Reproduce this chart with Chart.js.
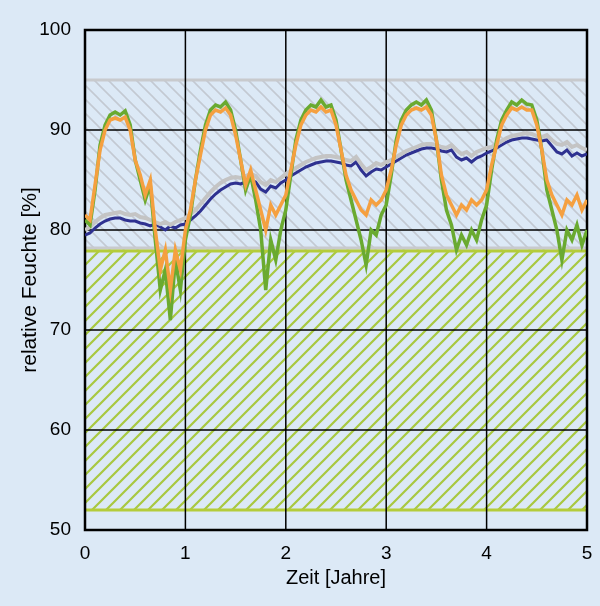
<!DOCTYPE html><html><head><meta charset="utf-8">
<script src="https://cdn.jsdelivr.net/npm/chart.js@4"></script>
<style>html,body{margin:0;padding:0;background:#dce9f6}canvas{display:block}</style></head><body>
<div style="width:600px;height:606px"><canvas id="c"></canvas></div>
<script>
const years=[];for(let i=0;i<=100;i++)years.push(i*0.05);
const green=[81,80.5,84,88.5,90.5,91.5,91.8,91.5,91.9,90.5,87,85,83,84.5,79,74,76,71,77,74,79,
81.5,85,88,90.5,92,92.5,92.3,92.8,92,90,87,84,85.5,83,80,74,79,77,80,82,
85.5,89,91,92,92.5,92.3,93,92.3,92.5,91,88,85,83,81,79,76.5,80,79.5,81.5,82.5,
85.5,89,91,92,92.5,92.8,92.5,93,92,89,85,82,80.5,78,79.5,78.5,80,79,81,82.5,
86,89,91,92,92.8,92.5,93,92.6,92.5,91,88,84,82,80,77,80,79,80.5,78.5,80];
const orange=[81.5,81,84.5,88,90,91,91.2,91,91.3,90,87,85.5,83.5,85,80,76,78,74,78,76,80,
82,85,87.5,90,91.5,92,91.8,92.2,91.5,89.5,87,84.5,86,84,82,80,82.5,81.5,82.5,83.5,
86,88.5,90.5,91.5,92,91.8,92.3,91.8,92,90.5,88,85.5,84,83,82,81.5,83,82.5,83,84,
86,88.5,90.5,91.5,92,92.2,92,92.3,91.5,89,85.5,83.5,82.5,81.5,82.5,82,83,82.5,83,84,
86.5,88.5,90.5,91.5,92.2,92,92.3,92,92,90.5,88,85,83.5,82.5,81.5,83,82.5,83.5,82,83];
const gray=[80,80.3,80.8,81.2,81.5,81.6,81.7,81.8,81.6,81.5,81.6,81.3,81.2,81,80.8,80.6,80.8,80.5,80.8,81,81.2,
81.6,82,82.6,83.2,83.8,84.3,84.7,85,85.2,85.3,85.2,85.4,85.6,85.4,84.8,84.5,85,84.8,85.2,85.6,
85.9,86.2,86.5,86.8,87,87.2,87.3,87.4,87.4,87.3,87.2,87,86.9,87.3,86.6,86,86.3,86.7,86.5,86.8,
87,87.3,87.6,87.9,88.1,88.3,88.5,88.6,88.6,88.5,88.3,88.2,88.5,88,87.6,87.8,87.4,87.8,88,88.2,
88.3,88.6,88.9,89.2,89.4,89.5,89.6,89.7,89.6,89.4,89.3,89.5,89,88.6,88.5,88.8,88.3,88.5,88.2,88];
const blue=[79.5,79.7,80.2,80.6,80.9,81.1,81.2,81.2,81,80.9,80.9,80.7,80.6,80.4,80.6,80.3,80,80.4,80.2,80.5,80.6,
81,81.4,81.9,82.5,83.1,83.6,84,84.3,84.6,84.7,84.6,84.8,85,84.8,84.1,83.8,84.4,84.2,84.7,85,
85.4,85.7,86,86.3,86.5,86.7,86.8,86.9,86.9,86.8,86.7,86.5,86.4,86.8,86,85.4,85.8,86.1,86,86.3,
86.6,86.9,87.2,87.5,87.7,87.9,88.1,88.2,88.2,88.1,87.9,87.8,88,87.3,87,87.2,86.8,87.2,87.4,87.7,
87.9,88.2,88.5,88.8,89,89.1,89.2,89.2,89.1,89,88.9,89,88.4,87.8,87.6,88,87.4,87.7,87.4,87.6];
const xTicks=[0,1,2,3,4,5];const yTicks=[50,60,70,80,90,100];
function pat(color,dir){const c=document.createElement('canvas');c.width=c.height=14;const g=c.getContext('2d');
 g.strokeStyle=color;g.lineWidth=dir>0?2.2:1.6;g.beginPath();
 if(dir>0){g.moveTo(0,14);g.lineTo(14,0);g.moveTo(-7,7);g.lineTo(7,-7);g.moveTo(7,21);g.lineTo(21,7);}
 else{g.moveTo(0,0);g.lineTo(14,14);g.moveTo(-7,7);g.lineTo(7,21);g.moveTo(7,-7);g.lineTo(21,7);}
 g.stroke();return g.createPattern(c,'repeat');}
const bands={id:'bands',beforeDatasetsDraw(ch){const {ctx,chartArea:a,scales:{y}}=ch;ctx.save();
 const y95=y.getPixelForValue(95),y78=y.getPixelForValue(78),y52=y.getPixelForValue(52);
 ctx.fillStyle=pat('#c3c9d2',-1);ctx.fillRect(a.left,y95,a.right-a.left,y78-y95);
 ctx.fillStyle=pat('#a8c840',1);ctx.fillRect(a.left,y78,a.right-a.left,y52-y78);
 ctx.lineWidth=3;ctx.strokeStyle='#c8cacd';ctx.beginPath();ctx.moveTo(a.left,y95);ctx.lineTo(a.right,y95);ctx.moveTo(a.left,y78-2);ctx.lineTo(a.right,y78-2);ctx.stroke();
 ctx.strokeStyle='#b4cc3a';ctx.beginPath();ctx.moveTo(a.left,y78+1);ctx.lineTo(a.right,y78+1);ctx.moveTo(a.left,y52);ctx.lineTo(a.right,y52);ctx.stroke();
 ctx.strokeStyle='#000';ctx.lineWidth=1.5;ctx.beginPath();
 xTicks.forEach(v=>{const p=ch.scales.x.getPixelForValue(v);ctx.moveTo(p,a.top);ctx.lineTo(p,a.bottom);});
 yTicks.forEach(v=>{const p=y.getPixelForValue(v);ctx.moveTo(a.left,p);ctx.lineTo(a.right,p);});ctx.stroke();
 ctx.lineWidth=2.5;ctx.strokeRect(a.left,a.top,a.right-a.left,a.bottom-a.top);ctx.restore();}};
const mk=(d,c,w)=>({data:d.map((v,i)=>({x:years[i],y:v})),borderColor:c,borderWidth:w,pointRadius:0,tension:0});
new Chart(document.getElementById('c'),{type:'line',
 data:{datasets:[mk(orange,'#f5a040',3.5),mk(green,'#6aaa30',3.5),mk(gray,'#c4c4c4',4),mk(blue,'#2e3190',3)]},
 plugins:[bands],
 options:{responsive:true,maintainAspectRatio:false,animation:false,
  layout:{padding:{top:30,right:13,left:14,bottom:12}},
  plugins:{legend:{display:false},tooltip:{enabled:false}},
  scales:{
   x:{type:'linear',min:0,max:5,afterBuildTicks:s=>{s.ticks=xTicks.map(v=>({value:v}))},afterFit:s=>{s.height=64},
    grid:{display:false},border:{display:false},
    ticks:{color:'#000',font:{family:'Liberation Sans',size:19},padding:4},
    title:{display:true,text:'Zeit [Jahre]',color:'#000',font:{family:'Liberation Sans',size:20},padding:{top:2}}},
   y:{min:50,max:100,afterBuildTicks:s=>{s.ticks=yTicks.map(v=>({value:v}))},afterFit:s=>{s.width=71},
    grid:{display:false},border:{display:false},
    ticks:{color:'#000',font:{family:'Liberation Sans',size:19},padding:6},
    title:{display:true,text:'relative Feuchte [%]',color:'#000',font:{family:'Liberation Sans',size:21},padding:{bottom:0}}}}}});
</script></body></html>
